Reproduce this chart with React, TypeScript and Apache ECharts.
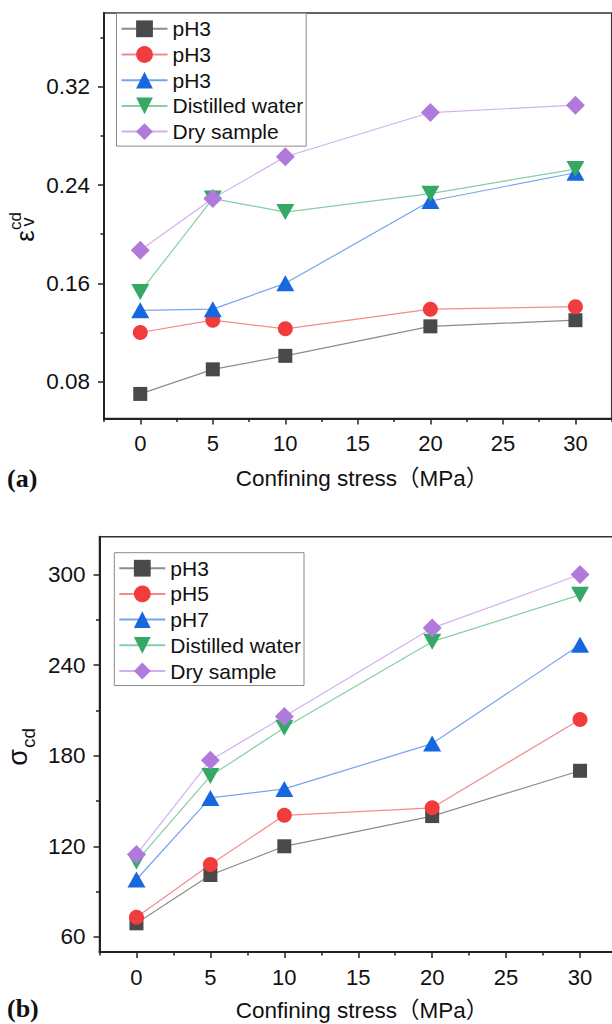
import React, { useEffect, useRef } from "react";
import * as echarts from "echarts";

// ---- data ----
const stress = [0, 5, 10, 20, 30];

// (a) volumetric strain at crack damage
const topNames = ["pH3", "pH3", "pH3", "Distilled water", "Dry sample"];
const topPH3a = [0.07, 0.09, 0.101, 0.125, 0.13];
const topPH3b = [0.12, 0.13, 0.123, 0.139, 0.141];
const topPH3c = [0.138, 0.139, 0.16, 0.227, 0.25];
const topDistilled = [0.153, 0.229, 0.218, 0.233, 0.253];
const topDry = [0.187, 0.229, 0.263, 0.299, 0.305];
const topYTicks = [0.08, 0.16, 0.24, 0.32];
const topYMinor = [0.12, 0.2, 0.28, 0.36];

// (b) crack damage stress
const botNames = ["pH3", "pH5", "pH7", "Distilled water", "Dry sample"];
const botPH3 = [69, 101, 120, 140, 170];
const botPH5 = [73, 108, 140.5, 145.5, 204];
const botPH7 = [98, 152, 158, 188, 253.5];
const botDistilled = [110, 166.5, 198.5, 255.5, 286.5];
const botDry = [114.5, 177, 206, 264.5, 300];
const botYTicks = [60, 120, 180, 240, 300];
const botYMinor = [90, 150, 210, 270];

const xTicks = [0, 5, 10, 15, 20, 25, 30];
const xMinor = [-2.5, 2.5, 7.5, 12.5, 17.5, 22.5, 27.5, 32.5];

const xTitle = "Confining stress（MPa）";

// ---- styles ----
const FONT = "'Liberation Sans', Arial, 'Noto Sans CJK SC', sans-serif";
const styles = [
  { symbol: "rect", size: 14, color: "#494949", line: "#8c8c8c" },
  { symbol: "circle", size: 15, color: "#f03c3c", line: "#f58a8a" },
  { symbol: "triangle", size: [18, 16], color: "#1767df", line: "#76a3ee" },
  { symbol: "path://M0 0L20 0L10 17Z", size: [18, 16], color: "#35a866", line: "#85cfa2" },
  { symbol: "diamond", size: 19, color: "#b07adc", line: "#d2b0ef" },
];

function pairs(vals: number[]) {
  return stress.map((x, i) => [x, vals[i]]);
}

function makeSeries(prefix: string, names: string[], sets: number[][], xi: number, yi: number) {
  return sets.map((vals, i) => ({
    type: "line",
    name: `${prefix}${i}|${names[i]}`,
    xAxisIndex: xi,
    yAxisIndex: yi,
    data: pairs(vals),
    symbol: styles[i].symbol,
    symbolSize: styles[i].size,
    itemStyle: { color: styles[i].color, borderColor: styles[i].color, borderWidth: 0 },
    lineStyle: { color: styles[i].line, width: 1.2 },
    emphasis: { disabled: true },
  }));
}

function mainX(gridIndex: number) {
  return {
    type: "value",
    gridIndex,
    min: -2.5,
    max: 32.5,
    position: "bottom",
    axisLine: { show: true, onZero: false, lineStyle: { color: "#222", width: 2 } },
    axisTick: { show: true, customValues: xTicks, length: 6, lineStyle: { color: "#222", width: 1.5 } },
    axisLabel: { show: true, customValues: xTicks, margin: 14, fontSize: 22, color: "#111", fontFamily: FONT },
    splitLine: { show: false },
  };
}
function minorX(gridIndex: number) {
  return {
    type: "value",
    gridIndex,
    min: -2.5,
    max: 32.5,
    position: "bottom",
    axisLine: { show: false, onZero: false },
    axisTick: { show: true, customValues: xMinor, length: 3.5, lineStyle: { color: "#222", width: 1.5 } },
    axisLabel: { show: false },
    splitLine: { show: false },
  };
}
function mainY(gridIndex: number, min: number, max: number, ticks: number[], fmt: (v: number) => string) {
  return {
    type: "value",
    gridIndex,
    min,
    max,
    position: "left",
    axisLine: { show: true, onZero: false, lineStyle: { color: "#222", width: 2 } },
    axisTick: { show: true, customValues: ticks, length: 6, lineStyle: { color: "#222", width: 1.5 } },
    axisLabel: { show: true, customValues: ticks, margin: 14, fontSize: 22.5, color: "#111", fontFamily: FONT, formatter: fmt },
    splitLine: { show: false },
  };
}
function minorY(gridIndex: number, min: number, max: number, ticks: number[]) {
  return {
    type: "value",
    gridIndex,
    min,
    max,
    position: "left",
    axisLine: { show: false, onZero: false },
    axisTick: { show: true, customValues: ticks, length: 3.5, lineStyle: { color: "#222", width: 1.5 } },
    axisLabel: { show: false },
    splitLine: { show: false },
  };
}

function legend(left: number, top: number, prefix: string, names: string[]) {
  return {
    show: true,
    orient: "vertical",
    left,
    top,
    padding: [5, 3, 4, 4],
    itemGap: 4.7,
    itemWidth: 46,
    itemHeight: 21,
    borderColor: "#8a8a8a",
    borderWidth: 1,
    backgroundColor: "#fff",
    selectedMode: false,
    data: names.map((n, i) => `${prefix}${i}|${n}`),
    formatter: (name: string) => name.split("|")[1],
    textStyle: { fontSize: 21, lineHeight: 21, color: "#111", fontFamily: FONT },
  };
}

export default function App() {
  const ref = useRef<HTMLDivElement>(null);
  useEffect(() => {
    if (!ref.current) return;
    const chart = echarts.init(ref.current, undefined, { renderer: "svg" });
    const titleStyle = { text: xTitle, fontSize: 22.5, fontFamily: FONT, fill: "#111", textAlign: "center", textVerticalAlign: "middle" };
    const panelStyle = { fontSize: 26, fontWeight: "bold", fontFamily: "'Liberation Serif', 'Times New Roman', serif", fill: "#111", textVerticalAlign: "middle" };
    const option = {
      animation: false,
      backgroundColor: "#fff",
      grid: [
        { left: 104, top: 13, width: 507.7, height: 405.5, show: true, borderColor: "#333", borderWidth: 1.5, backgroundColor: "transparent" },
        { left: 99.5, top: 536.7, width: 517.5, height: 415.3, show: true, borderColor: "#333", borderWidth: 1.5, backgroundColor: "transparent" },
      ],
      xAxis: [mainX(0), minorX(0), mainX(1), minorX(1)],
      yAxis: [
        mainY(0, 0.05, 0.38, topYTicks, (v: number) => v.toFixed(2)),
        minorY(0, 0.05, 0.38, topYMinor),
        mainY(1, 50, 325, botYTicks, (v: number) => String(Math.round(v))),
        minorY(1, 50, 325, botYMinor),
      ],
      legend: [
        legend(116.5, 13.3, "t", topNames),
        legend(114.3, 552.7, "b", botNames),
      ],
      series: [
        ...makeSeries("t", topNames, [topPH3a, topPH3b, topPH3c, topDistilled, topDry], 0, 0),
        ...makeSeries("b", botNames, [botPH3, botPH5, botPH7, botDistilled, botDry], 2, 2),
      ],
      graphic: [
        { type: "text", x: 362, y: 478, style: titleStyle },
        { type: "text", x: 362, y: 1010, style: titleStyle },
        { type: "text", x: 7, y: 478, style: { ...panelStyle, text: "(a)" } },
        { type: "text", x: 7, y: 1008, style: { ...panelStyle, text: "(b)" } },
        {
          type: "group",
          x: 25,
          y: 236,
          rotation: Math.PI / 2,
          children: [
            { type: "text", x: 0, y: 0, style: { text: "ε", fontSize: 26, fontFamily: FONT, fill: "#111", textAlign: "center", textVerticalAlign: "middle" } },
            { type: "text", x: 14, y: 3, style: { text: "v", fontSize: 18, fontFamily: FONT, fill: "#111", textAlign: "center", textVerticalAlign: "middle" } },
            { type: "text", x: 15, y: -10, style: { text: "cd", fontSize: 17, fontFamily: FONT, fill: "#111", textAlign: "center", textVerticalAlign: "middle" } },
          ],
        },
        {
          type: "group",
          x: 18,
          y: 757.5,
          rotation: Math.PI / 2,
          children: [
            { type: "text", x: 0, y: 0, style: { text: "σ", fontSize: 27, fontFamily: FONT, fill: "#111", textAlign: "center", textVerticalAlign: "middle" } },
            { type: "text", x: 19.5, y: 10, style: { text: "cd", fontSize: 19, fontFamily: FONT, fill: "#111", textAlign: "center", textVerticalAlign: "middle" } },
          ],
        },
      ],
    };
    chart.setOption(option as any);
    return () => chart.dispose();
  }, []);
  return (
    <div style={{ position: "fixed", left: 0, top: 0, width: 612, height: 1024, overflow: "hidden", background: "#fff" }}>
      <div ref={ref} style={{ width: 640, height: 1024 }} />
    </div>
  );
}
